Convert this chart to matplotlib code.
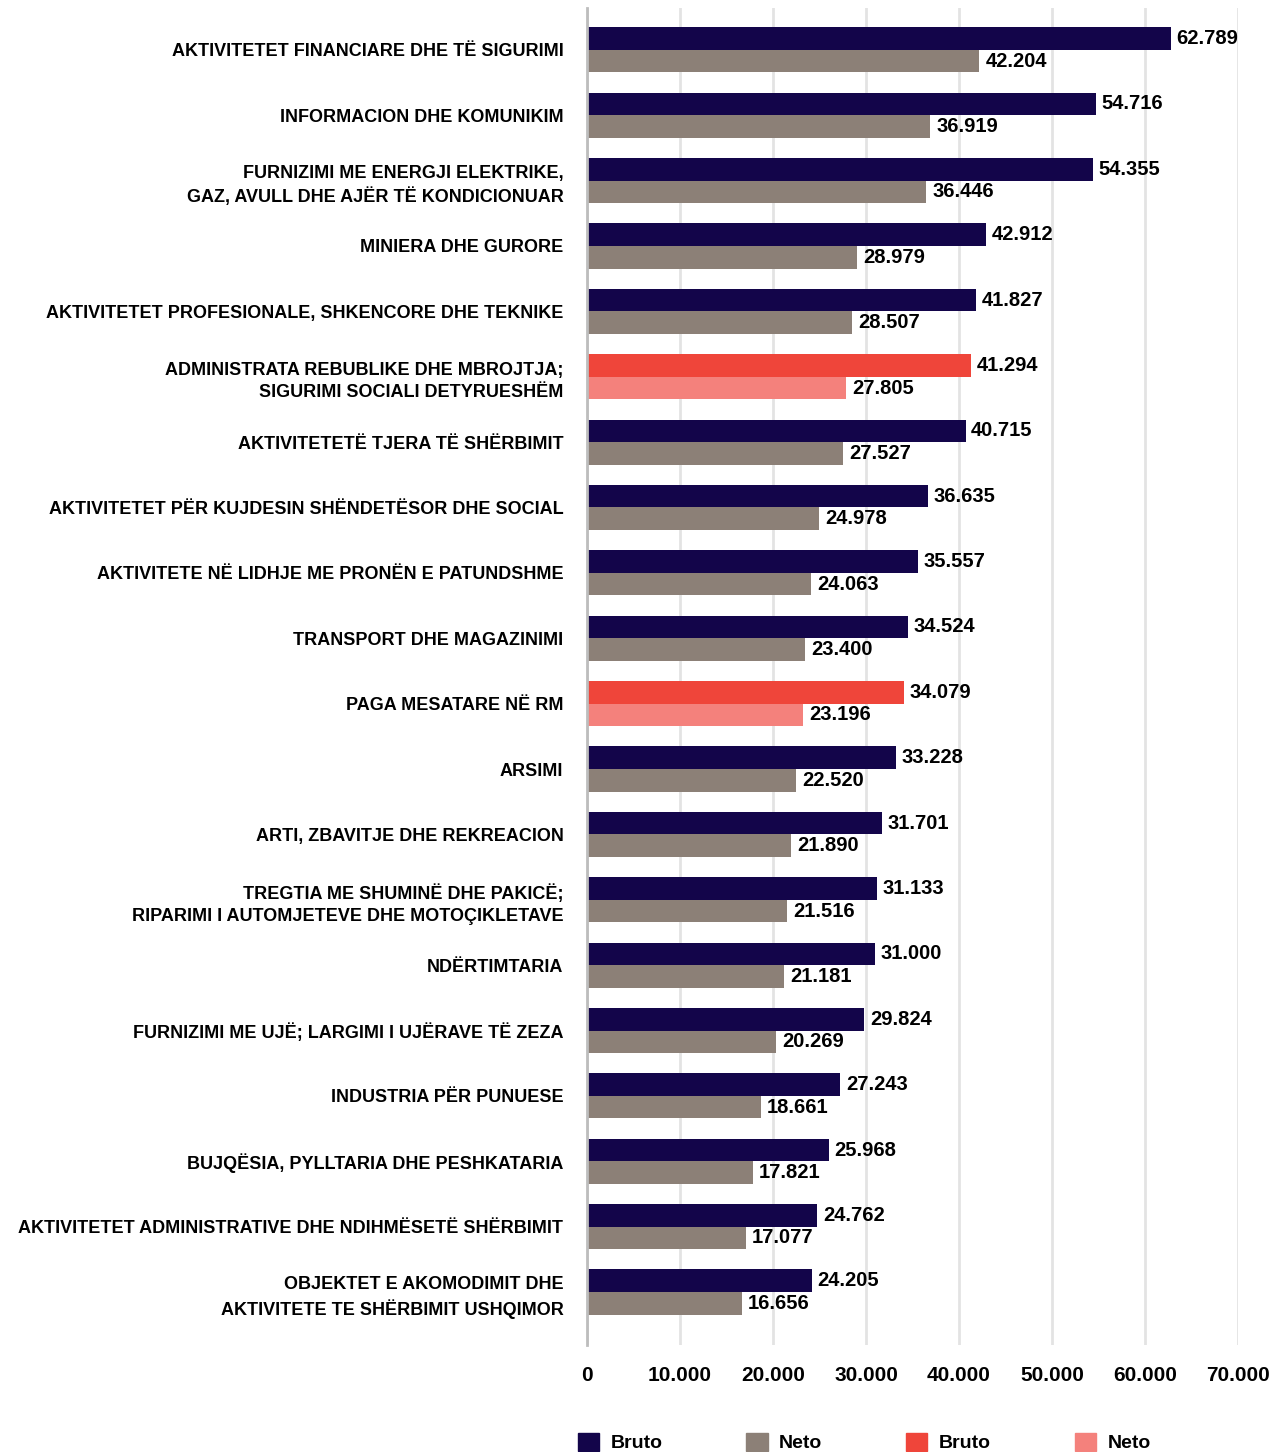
import matplotlib.pyplot as plt
import numpy as np
from matplotlib.patches import Patch

categories = [
    'AKTIVITETET FINANCIARE DHE TË SIGURIMI',
    'INFORMACION DHE KOMUNIKIM',
    'FURNIZIMI ME ENERGJI ELEKTRIKE,\nGAZ, AVULL DHE AJËR TË KONDICIONUAR',
    'MINIERA DHE GURORE',
    'AKTIVITETET PROFESIONALE, SHKENCORE DHE TEKNIKE',
    'ADMINISTRATA REBUBLIKE DHE MBROJTJA;\nSIGURIMI SOCIALI DETYRUESHËM',
    'AKTIVITETETË TJERA TË SHËRBIMIT',
    'AKTIVITETET PËR KUJDESIN SHËNDETËSOR DHE SOCIAL',
    'AKTIVITETE NË LIDHJE ME PRONËN E PATUNDSHME',
    'TRANSPORT DHE MAGAZINIMI',
    'PAGA MESATARE NË RM',
    'ARSIMI',
    'ARTI, ZBAVITJE DHE REKREACION',
    'TREGTIA ME SHUMINË DHE PAKICË;\nRIPARIMI I AUTOMJETEVE DHE MOTOÇIKLETAVE',
    'NDËRTIMTARIA',
    'FURNIZIMI ME UJË; LARGIMI I UJËRAVE TË ZEZA',
    'INDUSTRIA PËR PUNUESE',
    'BUJQËSIA, PYLLTARIA DHE PESHKATARIA',
    'AKTIVITETET ADMINISTRATIVE DHE NDIHMËSETË SHËRBIMIT',
    'OBJEKTET E AKOMODIMIT DHE\nAKTIVITETE TE SHËRBIMIT USHQIMOR',
]
bruto = [62789, 54716, 54355, 42912, 41827, 41294, 40715, 36635, 35557, 34524,
         34079, 33228, 31701, 31133, 31000, 29824, 27243, 25968, 24762, 24205]
neto = [42204, 36919, 36446, 28979, 28507, 27805, 27527, 24978, 24063, 23400,
        23196, 22520, 21890, 21516, 21181, 20269, 18661, 17821, 17077, 16656]
highlight = [5, 10]  # public administration and national average
x_ticks = [0, 10000, 20000, 30000, 40000, 50000, 60000, 70000]

c_bruto, c_neto = '#13054a', '#8c8077'
c_bruto_hl, c_neto_hl = '#ef453a', '#f4817c'

plt.rcParams['font.family'] = ['Liberation Sans', 'DejaVu Sans']
plt.rcParams['font.weight'] = 'bold'


def fmt(v):
    return f'{v:,}'.replace(',', '.')


fig = plt.figure(figsize=(12.85, 14.52), dpi=100)
ax = fig.add_axes([587 / 1285, 1 - 1345 / 1452, (1238 - 587) / 1285, (1345 - 8) / 1452])

y = np.arange(len(categories))
h = 0.345
col_b = [c_bruto_hl if i in highlight else c_bruto for i in y]
col_n = [c_neto_hl if i in highlight else c_neto for i in y]
ax.barh(y - h / 2, bruto, height=h, color=col_b, zorder=3)
ax.barh(y + h / 2, neto, height=h, color=col_n, zorder=3)

for i in y:
    ax.annotate(fmt(bruto[i]), (bruto[i], i - h / 2), xytext=(4, 0),
                textcoords='offset points', va='center', ha='left',
                fontsize=14.5, fontweight='bold')
    ax.annotate(fmt(neto[i]), (neto[i], i + h / 2), xytext=(4.5, 0),
                textcoords='offset points', va='center', ha='left',
                fontsize=14.5, fontweight='bold')

ax.set_xlim(0, 70000)
ax.set_ylim(len(categories) - 1 + 0.81, -0.64)
ax.set_xticks(x_ticks)
ax.set_xticklabels([fmt(t) for t in x_ticks], fontsize=15, fontweight='bold')
ax.set_yticks(y)
ax.set_yticklabels(categories, fontsize=13, fontweight='bold', linespacing=1.4)
ax.tick_params(axis='both', length=0)
ax.tick_params(axis='x', pad=15)
ax.tick_params(axis='y', pad=17)

ax.grid(axis='x', color='#e3e3e3', linewidth=2, zorder=0)
for s in ['top', 'right', 'bottom']:
    ax.spines[s].set_visible(False)
ax.spines['left'].set_color('#bdbdbd')
ax.spines['left'].set_linewidth(2)
ax.spines['left'].set_zorder(4)

handles = [Patch(color=c_bruto), Patch(color=c_neto),
           Patch(color=c_bruto_hl), Patch(color=c_neto_hl)]
fig.legend(handles, ['Bruto', 'Neto', 'Bruto', 'Neto'], ncol=4,
           loc='upper left', bbox_to_anchor=(560 / 1285, 1 - 1415 / 1452),
           frameon=False, fontsize=14, handlelength=1.1, handleheight=1.1,
           handletextpad=0.6, columnspacing=4.3)

fig.savefig('out.png', dpi=100)
